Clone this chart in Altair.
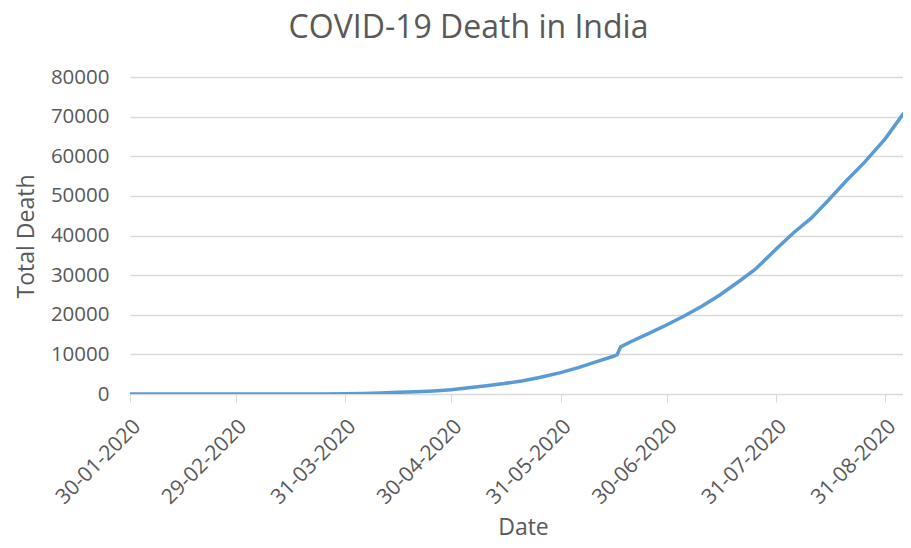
import altair as alt
import pandas as pd

dates = [
    "2020-01-30", "2020-02-15", "2020-03-01", "2020-03-10", "2020-03-15",
    "2020-03-20", "2020-03-25", "2020-03-31", "2020-04-05", "2020-04-10",
    "2020-04-15", "2020-04-20", "2020-04-25", "2020-04-30", "2020-05-05",
    "2020-05-10", "2020-05-15", "2020-05-20", "2020-05-25", "2020-05-31",
    "2020-06-05", "2020-06-10", "2020-06-15", "2020-06-16", "2020-06-17",
    "2020-06-20", "2020-06-25", "2020-06-30", "2020-07-05", "2020-07-10",
    "2020-07-15", "2020-07-20", "2020-07-25", "2020-07-31", "2020-08-05",
    "2020-08-10", "2020-08-15", "2020-08-20", "2020-08-25", "2020-08-31",
    "2020-09-05", "2020-09-07",
]
total_death = [
    0, 0, 0, 0, 2,
    4, 13, 35, 109, 239,
    414, 559, 779, 1075, 1568,
    2109, 2649, 3303, 4167, 5394,
    6642, 8102, 9520, 9900, 11903,
    13254, 15301, 17400, 19693, 22123,
    24915, 28084, 31358, 36511, 40699,
    44386, 49036, 53866, 58390, 64469,
    70626, 72775,
]

tick_dates = [(2020, 1, 30), (2020, 2, 29), (2020, 3, 31), (2020, 4, 30),
              (2020, 5, 31), (2020, 6, 30), (2020, 7, 31), (2020, 8, 31)]
y_ticks = [0, 10000, 20000, 30000, 40000, 50000, 60000, 70000, 80000]

df = pd.DataFrame({"Date": [d + "T00:00:00Z" for d in dates], "Total Death": total_death})

FONT = "Open Sans"
GRAY = "#595959"
GRID = "#d9d9d9"

chart = alt.Chart(df).mark_line(color="#5B9BD5", strokeWidth=3.5, clip=True).encode(
    x=alt.X(
        "Date:T",
        scale=alt.Scale(
            type="utc",
            domain=[alt.DateTime(year=2020, month=1, date=30, utc=True),
                    alt.DateTime(year=2020, month=9, date=5, utc=True)],
        ),
        axis=alt.Axis(
            values=[alt.DateTime(year=y, month=m, date=d, utc=True) for (y, m, d) in tick_dates],
            labelExpr="utcFormat(datum.value, '%d-%m-%Y')",
            labelAngle=-45,
            labelAlign="right",
            labelBaseline="middle",
            labelPadding=21,
            labelOffset=7,
            labelFont=FONT,
            labelFontSize=21,
            labelColor=GRAY,
            tickColor=GRID,
            tickSize=8,
            domainColor=GRID,
            grid=False,
            title="Date",
            titleFont=FONT,
            titleFontSize=23,
            titleFontWeight="normal",
            titleColor=GRAY,
            titleX=393,
            titleY=140,
            titleAlign="center",
            titleBaseline="alphabetic",
            labelOverlap=False,
        ),
    ),
    y=alt.Y(
        "Total Death:Q",
        scale=alt.Scale(domain=[0, 80000], nice=False),
        axis=alt.Axis(
            values=y_ticks,
            format="d",
            domain=False,
            ticks=False,
            labelPadding=21,
            labelFont=FONT,
            labelFontSize=20.5,
            labelColor=GRAY,
            gridColor=GRID,
            gridWidth=1.3,
            title="Total Death",
            titleFont=FONT,
            titleFontSize=23,
            titleFontWeight="normal",
            titleColor=GRAY,
            titleAngle=270,
            titleX=-97,
            titleY=159,
            titleAlign="center",
            titleBaseline="alphabetic",
        ),
    ),
).properties(
    width=773,
    height=317,
    title=alt.Title(
        "COVID-19 Death in India",
        font=FONT,
        fontSize=32,
        fontWeight="normal",
        color=GRAY,
        anchor="middle",
        dx=-48,
        offset=22,
    ),
    autosize=alt.AutoSizeParams(type="none"),
    padding={"left": 122, "top": 69, "right": 0, "bottom": 146},
).configure_view(stroke=None)

chart.save("out.html", embed_options={"renderer": "svg", "actions": False})
